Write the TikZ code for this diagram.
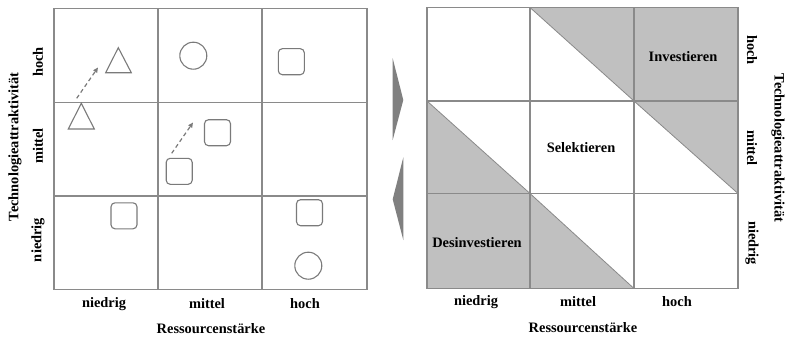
\documentclass[tikz,border=0pt]{standalone}
\usepackage{fontspec}
\setmainfont{Liberation Serif}
\usetikzlibrary{arrows.meta}
\definecolor{gridc}{HTML}{8A8A8A}
\definecolor{shadec}{HTML}{C0C0C0}
\definecolor{shapec}{HTML}{7A7A7A}
\definecolor{chevc}{HTML}{808080}
\begin{document}
\begin{tikzpicture}[x=1pt,y=-1pt,
  lbl/.style={font=\bfseries\fontsize{14.4}{17}\selectfont, inner sep=0pt},
  gridline/.style={draw=gridc, line width=1.6pt},
  diagline/.style={draw=gridc, line width=0.8pt},
  sq/.style={draw=shapec, line width=1.1pt, rounded corners=4pt, minimum size=26pt, inner sep=0pt},
  circ/.style={draw=shapec, line width=1.1pt, circle, minimum size=27pt, inner sep=0pt},
  tri/.style={draw=shapec, line width=1.1pt, line join=miter},
  dasharrow/.style={draw=shapec, line width=1.2pt, dash pattern=on 4pt off 3pt, -{Triangle[length=5pt,width=4.5pt]}},
  chev/.style={fill=chevc}]
\useasboundingbox (0,0) rectangle (786,337);

% ---------- left matrix ----------
\draw[gridline] (54,8.5) rectangle (367,289.5);
\draw[gridline] (158,8.5) -- (158,289.5);
\draw[gridline] (262,8.5) -- (262,289.5);
\draw[gridline] (54,102.5) -- (367,102.5);
\draw[gridline] (54,196) -- (367,196);

% triangles
\draw[tri] (118.3,47.7) -- (131.3,72.7) -- (105.7,72.7) -- cycle;
\draw[tri] (81.3,103.3) -- (94.3,129) -- (68.3,129) -- cycle;
% circles
\node[circ] (c1) at (193.3,55.7) {};
\node[circ] (c2) at (308.3,265.7) {};
% rounded squares
\node[sq] (s1) at (291.3,61.7) {};
\node[sq] (s2) at (217.5,132.7) {};
\node[sq] (s3) at (179.2,171.3) {};
\node[sq] (s4) at (124,215.8) {};
\node[sq] (s5) at (309.5,212.7) {};
% dashed arrows
\coordinate (a1s) at (76.7,98.3);
\coordinate (a1e) at (98,67.5);
\coordinate (a2s) at (171.7,153.3);
\coordinate (a2e) at (193,122.5);
\draw[dasharrow] (a1s) -- (a1e);
\draw[dasharrow] (a2s) -- (a2e);

% left labels
\node[lbl] (lx1) at (104,304) {niedrig};
\node[lbl] (lx2) at (207,304) {mittel};
\node[lbl] (lx3) at (305,304) {hoch};
\node[lbl] (lxt) at (211,329) {Ressourcenstärke};
\node[lbl, rotate=90] (ly1) at (38,62) {hoch};
\node[lbl, rotate=90] (ly2) at (38,146) {mittel};
\node[lbl, rotate=90] (ly3) at (38,240) {niedrig};
\node[lbl, rotate=90] (lyt) at (15,147) {Technologieattraktivität};

% ---------- chevrons ----------
\fill[chev] (392.7,58.3) -- (403.3,100) -- (392.7,140) -- cycle;
\fill[chev] (403.3,157.3) -- (392.7,199.3) -- (403.3,240) -- cycle;

% ---------- right matrix ----------
\fill[shadec] (530,7.5) -- (634,7.5) -- (634,101) -- cycle;
\fill[shadec] (634,7.5) rectangle (738,101);
\fill[shadec] (427,101) -- (427,193.5) -- (530,193.5) -- cycle;
\fill[shadec] (634,101) -- (738,101) -- (738,193.5) -- cycle;
\fill[shadec] (427,193.5) rectangle (530,288.5);
\fill[shadec] (530,193.5) -- (530,288.5) -- (634,288.5) -- cycle;
\draw[diagline] (530,7.5) -- (634,101);
\draw[diagline] (427,101) -- (530,193.5);
\draw[diagline] (634,101) -- (738,193.5);
\draw[diagline] (530,193.5) -- (634,288.5);
\draw[gridline] (427,7.5) rectangle (738,288.5);
\draw[gridline] (530,7.5) -- (530,288.5);
\draw[gridline] (634,7.5) -- (634,288.5);
\draw[gridline] (427,101) -- (738,101);
\draw[gridline] (427,193.5) -- (738,193.5);

\node[lbl] (inv) at (683,57) {Investieren};
\node[lbl] (sel) at (581,148) {Selektieren};
\node[lbl] (des) at (477,243) {Desinvestieren};

\node[lbl] (rx1) at (476,302) {niedrig};
\node[lbl] (rx2) at (578,302) {mittel};
\node[lbl] (rx3) at (677,302) {hoch};
\node[lbl] (rxt) at (583,328) {Ressourcenstärke};
\node[lbl, rotate=-90] (ry1) at (752,50) {hoch};
\node[lbl, rotate=-90] (ry2) at (752,148) {mittel};
\node[lbl, rotate=-90] (ry3) at (752,243) {niedrig};
\node[lbl, rotate=-90] (ryt) at (778,148) {Technologieattraktivität};
\end{tikzpicture}
\end{document}
